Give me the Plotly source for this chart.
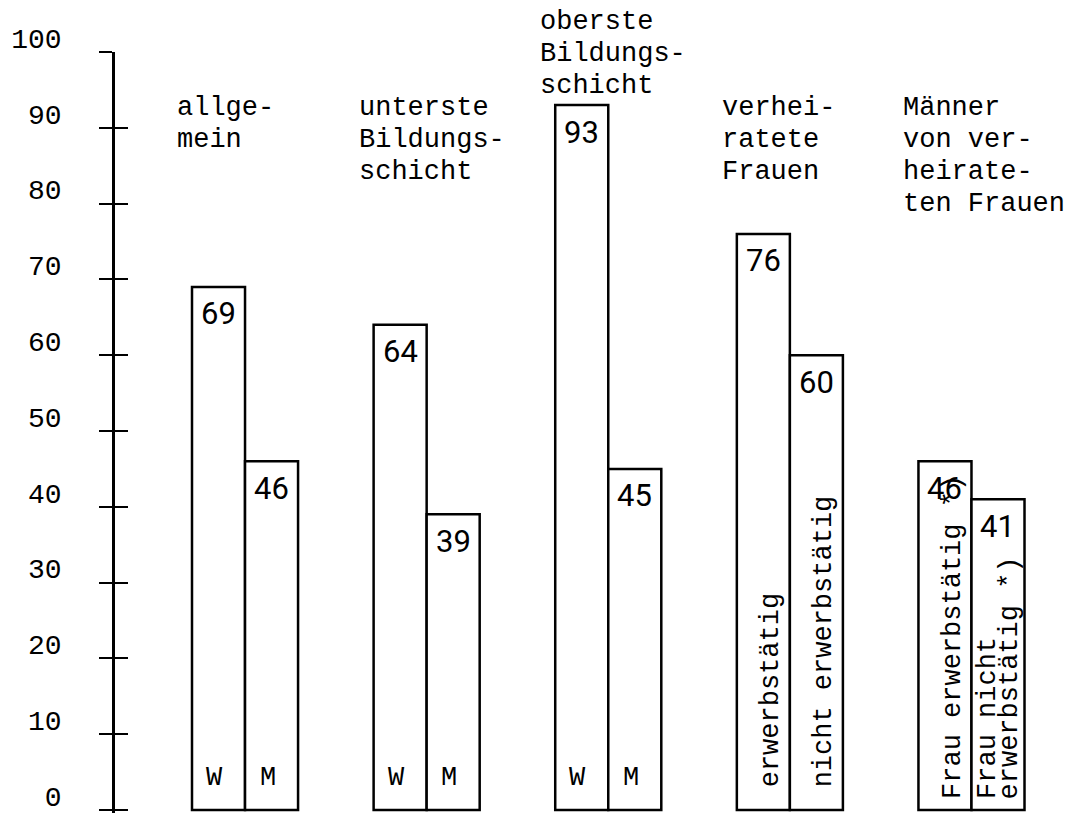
import plotly.graph_objects as go

# ---------------- data ----------------
groups = ["allgemein", "unterste Bildungsschicht", "oberste Bildungsschicht",
          "verheiratete Frauen", "Männer von verheirateten Frauen"]
group_titles = ["allge-<br>mein",
                "unterste<br>Bildungs-<br>schicht",
                "oberste<br>Bildungs-<br>schicht",
                "verhei-<br>ratete<br>Frauen",
                "Männer<br>von ver-<br>heirate-<br>ten Frauen"]
first_values = [69, 64, 93, 76, 46]
second_values = [46, 39, 45, 60, 41]
first_labels = ["W", "W", "W", "erwerbstätig", "Frau erwerbstätig *)"]
second_labels = ["M", "M", "M", "nicht erwerbstätig", "Frau nicht<br>erwerbstätig *)"]
y_ticks = [0, 10, 20, 30, 40, 50, 60, 70, 80, 90, 100]

# ---------------- style ----------------
# the page body adds an 8px margin, so the figure is sized to fill the rest
W, H = 1072, 805
M_L, M_R, M_T, M_B = 107, 5, 44, 0
X_RANGE = [-0.716, 4.570]
Y_RANGE = [-0.4, 100]
BARGAP = 0.416
MONO = "Liberation Mono"
TXT = 27
label_lift = [32, 32, 32, 21, 9]   # px above baseline for inner labels

plot_w = W - M_L - M_R
plot_h = H - M_T - M_B
slot_px = plot_w / (X_RANGE[1] - X_RANGE[0])
half = slot_px * (1 - BARGAP) / 4   # offset of bar centre from group centre


def to_paper(v):
    return (v - Y_RANGE[0]) / (Y_RANGE[1] - Y_RANGE[0])


fig = go.Figure()
for vals in (first_values, second_values):
    fig.add_trace(go.Bar(
        x=groups, y=vals,
        marker=dict(color="white", line=dict(color="black", width=2.5)),
        showlegend=False, hoverinfo="skip"))
# helper trace for the second (inside-tick) axis
fig.add_trace(go.Scatter(x=[groups[0]], y=[None], yaxis="y2", mode="markers",
                         showlegend=False, hoverinfo="skip"))

ann = []
for i, g in enumerate(groups):
    # group titles above the bars
    top_val = max(94.86, max(first_values[i], second_values[i]) + 13.2)
    for k, line in enumerate(group_titles[i].split("<br>")):
        ann.append(dict(x=g, y=to_paper(top_val), xref="x", yref="paper", text=line,
                        xanchor="left", yanchor="top", xshift=-70, yshift=-32 * k,
                        showarrow=False, font=dict(family=MONO, size=TXT, color="black")))
    # values and inner labels
    for sgn, vals, labs in ((-1, first_values, first_labels), (1, second_values, second_labels)):
        ann.append(dict(x=g, y=vals[i], xref="x", yref="y", text=str(vals[i]),
                        xanchor="center", yanchor="middle", xshift=sgn * half, yshift=-27,
                        showarrow=False, font=dict(family="Roboto", size=31, color="black")))
        lab = labs[i]
        if len(lab) <= 2:
            ann.append(dict(x=g, y=0, xref="x", yref="y", text=lab,
                            xanchor="center", yanchor="middle", xshift=sgn * half - 4,
                            yshift=label_lift[i], showarrow=False,
                            font=dict(family=MONO, size=TXT, color="black")))
        else:
            lines = lab.split("<br>")
            n = len(lines)
            for k, line in enumerate(lines):
                off = 8 if n == 1 else (k - (n - 1) / 2) * 22 + 1
                ann.append(dict(x=g, y=0, xref="x", yref="y", text=line, textangle=-90,
                                xanchor="center", yanchor="bottom",
                                xshift=sgn * half + off, yshift=label_lift[i],
                                showarrow=False,
                                font=dict(family=MONO, size=TXT, color="black")))

fig.update_layout(
    width=W, height=H,
    margin=dict(l=M_L, r=M_R, t=M_T, b=M_B, autoexpand=False),
    paper_bgcolor="white", plot_bgcolor="white",
    barmode="group", bargap=BARGAP, bargroupgap=0,
    xaxis=dict(type="category", range=X_RANGE, showticklabels=False, ticks="",
               showgrid=False, zeroline=False, showline=False, automargin=False),
    yaxis=dict(range=Y_RANGE, tickmode="array", tickvals=y_ticks,
               ticktext=[str(v) for v in y_ticks],
               ticks="outside", ticklen=13, tickwidth=2, tickcolor="black",
               showline=True, linewidth=2.5, linecolor="black",
               showgrid=False, zeroline=False, automargin=False,
               tickfont=dict(family=MONO, size=28, color="black"),
               ticklabelstandoff=32, ticklabelshift=-14, ticklabeloverflow="allow"),
    yaxis2=dict(range=Y_RANGE, overlaying="y", side="left", anchor="x",
                tickmode="array", tickvals=y_ticks,
                ticks="inside", ticklen=13, tickwidth=2, tickcolor="black",
                showticklabels=False, showline=False, showgrid=False, zeroline=False,
                automargin=False),
    annotations=ann,
)

fig.write_html("out.html")
